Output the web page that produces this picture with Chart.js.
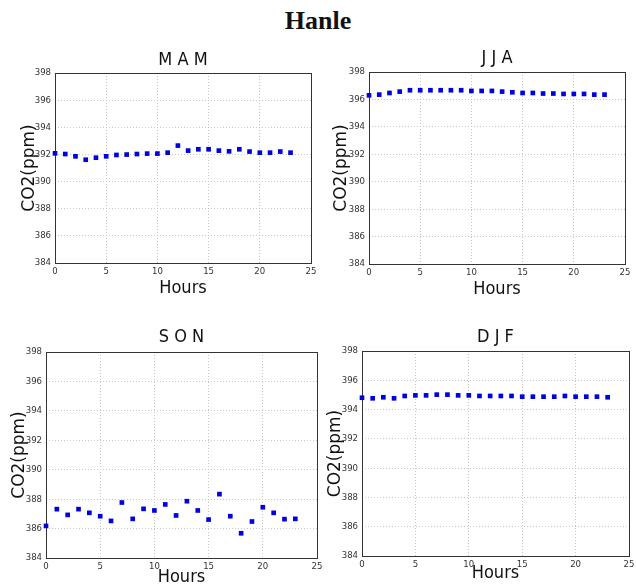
<!DOCTYPE html>
<html lang="en">
<head>
  <meta charset="UTF-8">
  <title>Hanle</title>

  <!-- Chart.js for the four seasonal panels -->
  <script src="https://cdn.jsdelivr.net/npm/chart.js"></script>

  <style>
    body { margin: 0; background: #fff; }
    #page { position: relative; width: 636px; height: 588px; overflow: hidden; background: #fff; }
    #page h1 {
      position: absolute; left: 0; top: 8px; width: 636px; margin: 0;
      text-align: center; font: bold 26px/26px "Liberation Serif", serif; color: #111;
    }
    #page canvas { position: absolute; }
  </style>
</head>

<body>
<div id="page">
  <h1>Hanle</h1>
  <canvas id="mam"></canvas>
  <canvas id="jja"></canvas>
  <canvas id="son"></canvas>
  <canvas id="djf"></canvas>
</div>

<script>
  // Hour of day (x) and mean CO2 in ppm (y) for each season
  const hours = [0, 1, 2, 3, 4, 5, 6, 7, 8, 9, 10, 11, 12, 13, 14, 15, 16, 17, 18, 19, 20, 21, 22, 23];

  const mam = [392.08, 392.03, 391.86, 391.61, 391.76, 391.86, 391.96, 391.99, 392.03, 392.06, 392.06, 392.13,
               392.65, 392.28, 392.38, 392.38, 392.28, 392.23, 392.38, 392.21, 392.13, 392.13, 392.21, 392.13];
  const jja = [396.30, 396.35, 396.47, 396.57, 396.67, 396.67, 396.67, 396.67, 396.67, 396.67, 396.62, 396.62,
               396.62, 396.57, 396.52, 396.47, 396.47, 396.43, 396.43, 396.40, 396.40, 396.40, 396.35, 396.35];
  const son = [386.18, 387.32, 386.93, 387.32, 387.07, 386.84, 386.52, 387.77, 386.66, 387.34, 387.23, 387.64,
               386.89, 387.86, 387.23, 386.61, 388.34, 386.84, 385.68, 386.48, 387.45, 387.07, 386.64, 386.66];
  const djf = [394.81, 394.77, 394.84, 394.77, 394.93, 394.97, 394.97, 395.02, 395.02, 394.97, 394.97, 394.93,
               394.93, 394.93, 394.93, 394.88, 394.88, 394.88, 394.88, 394.93, 394.88, 394.88, 394.88, 394.84];

  const seasonTitles = ['M A M', 'J J A', 'S O N', 'D J F'];
  const xLabel = 'Hours';
  const yLabel = 'CO2(ppm)';

  // axis ranges
  const xMin = 0, xMax = 25, xStep = 5;
  const yMin = 384, yMax = 398, yStep = 2;

  // where each panel sits on the page: plot box [left, top, right, bottom] and label centres
  const panels = [
    { id: 'mam', values: mam, plot: [55, 73, 311, 263],  titleY: 60,  ylabX: 30,  hoursY: 288 },
    { id: 'jja', values: jja, plot: [369, 72, 625, 264], titleY: 58,  ylabX: 342, hoursY: 289 },
    { id: 'son', values: son, plot: [46, 352, 317, 558], titleY: 337, ylabX: 20,  hoursY: 577 },
    { id: 'djf', values: djf, plot: [362, 351, 629, 556], titleY: 337, ylabX: 336, hoursY: 573 }
  ];

  const narrow = '"DejaVu Sans Condensed", "DejaVu Sans", sans-serif';
  const titleFont = { family: narrow, size: 18, weight: 'normal', lineHeight: 1.2 };
  const hoursFont = { family: narrow, size: 18, lineHeight: 1.2 };
  const ylabFont  = { family: '"DejaVu Sans", sans-serif', size: 17, lineHeight: 1.2 };
  const tickFont  = { family: narrow, size: 9.5 };

  // box round the plot area, drawn under the markers
  const framePlugin = {
    id: 'frame',
    beforeDatasetsDraw(chart) {
      const { ctx, chartArea: a } = chart;
      ctx.save();
      ctx.strokeStyle = '#333';
      ctx.lineWidth = 1;
      ctx.strokeRect(Math.round(a.left) + 0.5, Math.round(a.top) + 0.5,
                     Math.round(a.right - a.left), Math.round(a.bottom - a.top));
      ctx.restore();
    }
  };

  panels.forEach((p, i) => {
    const [l, t, r, b] = p.plot;
    const titleLH = titleFont.size * 1.2;
    const hoursLH = hoursFont.size * 1.2;
    const ylabLH = ylabFont.size * 1.2;

    const cx = Math.round(p.ylabX - ylabLH / 2 - 2);
    const cy = Math.round(p.titleY - titleLH / 2 - 2);
    const w = r + 10 - cx;
    const h = Math.round(p.hoursY + hoursLH / 2 + 2) - cy;

    const padLeft = p.ylabX - ylabLH / 2 - cx;
    const padTop = p.titleY - titleLH / 2 - cy;
    const padBottom = cy + h - p.hoursY - hoursLH / 2;

    const canvas = document.getElementById(p.id);
    canvas.width = w;
    canvas.height = h;
    canvas.style.left = cx + 'px';
    canvas.style.top = cy + 'px';

    new Chart(canvas.getContext('2d'), {
      type: 'scatter',
      data: {
        datasets: [{
          data: hours.map((hr, k) => ({ x: hr, y: p.values[k] })),
          pointStyle: 'rect',
          pointRadius: 3.3,
          pointBorderWidth: 0,
          backgroundColor: '#0000e0',
          borderColor: '#0000e0',
          clip: false
        }]
      },
      options: {
        responsive: false,
        animation: false,
        events: [],
        layout: { padding: { left: padLeft, top: padTop, right: 10, bottom: padBottom } },
        plugins: {
          legend: { display: false },
          tooltip: { enabled: false },
          title: {
            display: true,
            text: seasonTitles[i],
            fullSize: false,
            color: '#111',
            font: titleFont,
            padding: { top: 0, bottom: t - cy - padTop - titleLH }
          }
        },
        scales: {
          x: {
            type: 'linear',
            min: xMin, max: xMax,
            ticks: { stepSize: xStep, color: '#333', font: tickFont, padding: 3, maxRotation: 0 },
            grid: { color: '#c8c8c8', drawTicks: false },
            border: { display: false, dash: [1, 2] },
            title: { display: true, text: xLabel, color: '#111', font: hoursFont, padding: 0 },
            afterFit(scale) { scale.height = cy + h - padBottom - b; }
          },
          y: {
            min: yMin, max: yMax,
            ticks: { stepSize: yStep, color: '#333', font: tickFont, padding: 4 },
            grid: { color: '#c8c8c8', drawTicks: false },
            border: { display: false, dash: [1, 2] },
            title: { display: true, text: yLabel, color: '#111', font: ylabFont, padding: 0 },
            afterFit(scale) { scale.width = l - cx - padLeft; }
          }
        }
      },
      plugins: [framePlugin]
    });
  });
</script>

</body>
</html>
